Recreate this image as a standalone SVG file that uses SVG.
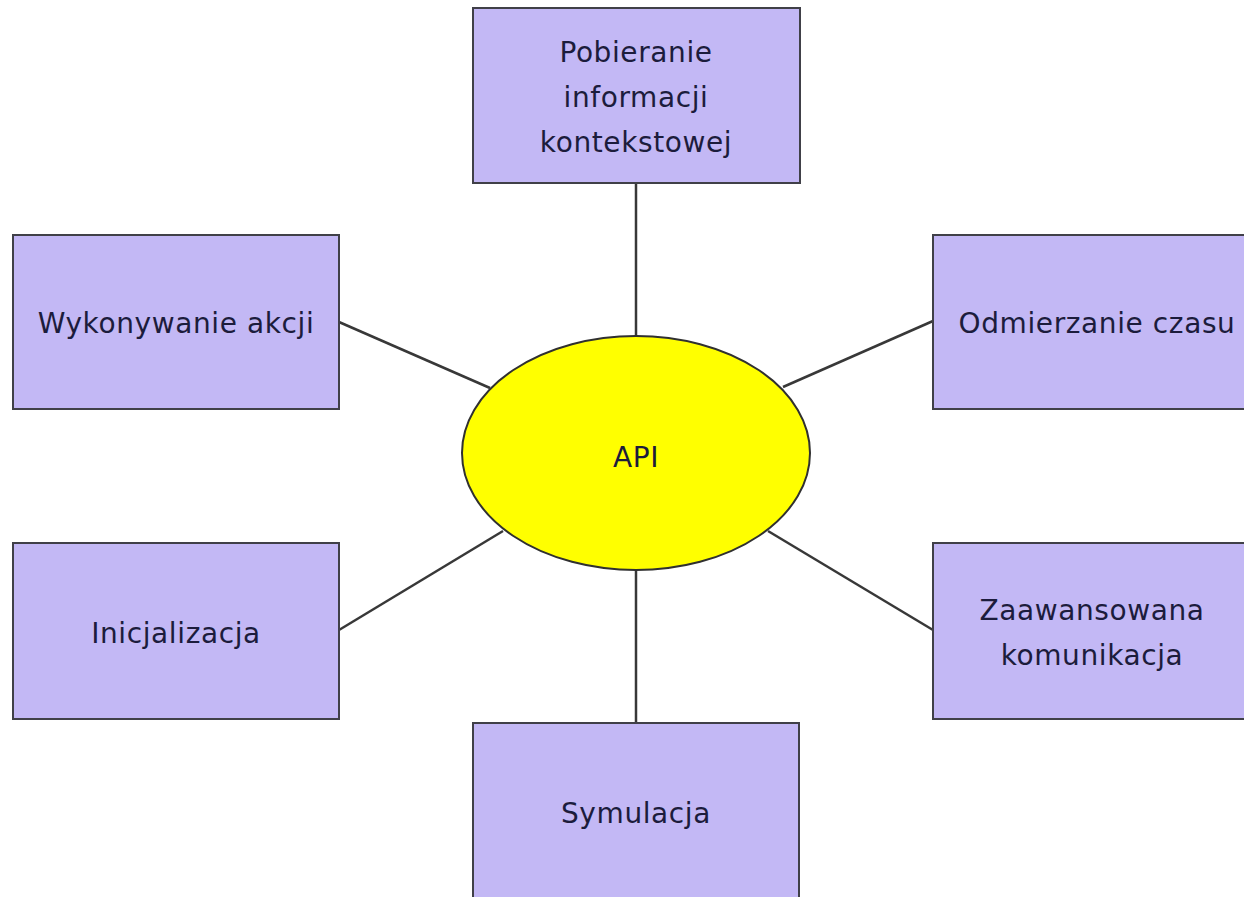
<svg xmlns="http://www.w3.org/2000/svg" width="1244" height="897" viewBox="0 0 1244 897">
<style>
.box{fill:#c3b8f5;stroke:#404048;stroke-width:2}
.ell{fill:#ffff00;stroke:#303030;stroke-width:2}
.lbl{font-family:"DejaVu Sans","Liberation Sans",sans-serif;font-size:28px;letter-spacing:0.6px;fill:#1c1c3c;text-anchor:middle}
.con{stroke:#383838;stroke-width:2.5;fill:none}
</style>
<rect width="1244" height="897" fill="#ffffff"/>
<g id="connectors">
<line class="con" x1="636" y1="183" x2="636" y2="336"/>
<line class="con" x1="636" y1="570" x2="636" y2="723"/>
<line class="con" x1="339" y1="322" x2="490" y2="388"/>
<line class="con" x1="933" y1="321" x2="783" y2="387"/>
<line class="con" x1="339" y1="630" x2="503" y2="531"/>
<line class="con" x1="933" y1="630" x2="768" y2="531"/>
</g>
<g id="api">
<ellipse class="ell" cx="636" cy="453" rx="174" ry="117"/>
<text class="lbl" x="636" y="467">API</text>
</g>
<g id="pobieranie">
<rect class="box" x="473" y="8" width="327" height="175"/>
<text class="lbl" x="636" y="62">Pobieranie</text>
<text class="lbl" x="636" y="107">informacji</text>
<text class="lbl" x="636" y="152">kontekstowej</text>
</g>
<g id="wykonywanie">
<rect class="box" x="13" y="235" width="326" height="174"/>
<text class="lbl" x="176" y="333">Wykonywanie akcji</text>
</g>
<g id="odmierzanie">
<rect class="box" x="933" y="235" width="330" height="174"/>
<text class="lbl" x="1097" y="333">Odmierzanie czasu</text>
</g>
<g id="inicjalizacja">
<rect class="box" x="13" y="543" width="326" height="176"/>
<text class="lbl" x="176" y="643">Inicjalizacja</text>
</g>
<g id="zaawansowana">
<rect class="box" x="933" y="543" width="330" height="176"/>
<text class="lbl" x="1092" y="620">Zaawansowana</text>
<text class="lbl" x="1092" y="665">komunikacja</text>
</g>
<g id="symulacja">
<rect class="box" x="473" y="723" width="326" height="190"/>
<text class="lbl" x="636" y="823">Symulacja</text>
</g>
</svg>
